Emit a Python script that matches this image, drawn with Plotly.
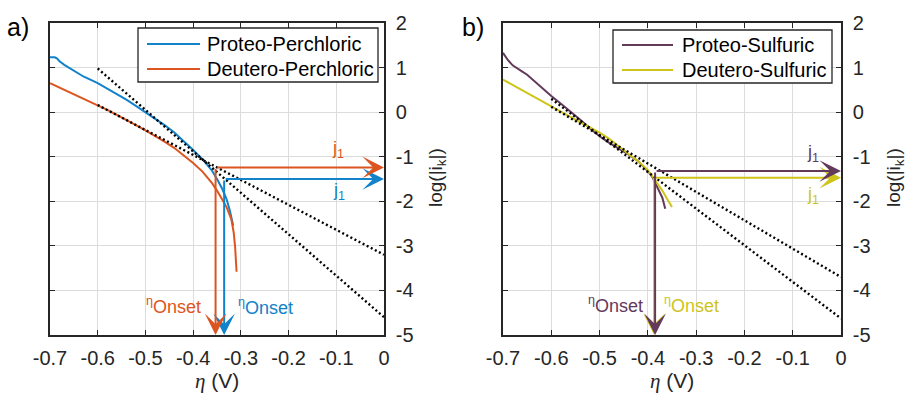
import plotly.graph_objects as go

# ---------------- data ----------------
# a) perchloric acid: overpotential (V) vs log|i_k|
eta_proteo_perchloric = [-0.700, -0.690, -0.685, -0.680, -0.670, -0.660, -0.650, -0.630, -0.600,
                         -0.580, -0.560, -0.540, -0.520, -0.500, -0.480, -0.460, -0.440, -0.420,
                         -0.400, -0.380, -0.360, -0.350, -0.340, -0.330, -0.323, -0.316]
logi_proteo_perchloric = [1.23, 1.23, 1.20, 1.14, 1.06, 0.99, 0.92, 0.80, 0.65,
                          0.53, 0.41, 0.28, 0.14, 0.00, -0.14, -0.29, -0.45, -0.64,
                          -0.85, -1.06, -1.32, -1.50, -1.70, -1.95, -2.21, -2.55]

eta_deutero_perchloric = [-0.700, -0.680, -0.660, -0.640, -0.620, -0.600, -0.580, -0.560, -0.540,
                          -0.520, -0.500, -0.480, -0.460, -0.440, -0.420, -0.400, -0.380, -0.360,
                          -0.350, -0.340, -0.330, -0.320, -0.315, -0.312, -0.309]
logi_deutero_perchloric = [0.65, 0.55, 0.45, 0.35, 0.26, 0.16, 0.05, -0.06, -0.17,
                           -0.29, -0.41, -0.53, -0.66, -0.80, -0.96, -1.14, -1.34, -1.60,
                           -1.76, -1.93, -2.13, -2.40, -2.70, -3.03, -3.58]

# b) sulfuric acid
eta_proteo_sulfuric = [-0.700, -0.690, -0.680, -0.670, -0.660, -0.650, -0.630, -0.600, -0.580,
                       -0.560, -0.540, -0.520, -0.500, -0.480, -0.460, -0.440, -0.420, -0.400,
                       -0.390, -0.380, -0.370, -0.364]
logi_proteo_sulfuric = [1.33, 1.17, 1.05, 0.97, 0.91, 0.84, 0.64, 0.36, 0.19,
                        0.02, -0.17, -0.36, -0.54, -0.69, -0.82, -0.95, -1.10, -1.32,
                        -1.47, -1.68, -1.92, -2.17]

eta_deutero_sulfuric = [-0.700, -0.680, -0.660, -0.640, -0.620, -0.600, -0.580, -0.560, -0.540,
                        -0.520, -0.500, -0.480, -0.460, -0.440, -0.420, -0.400, -0.390, -0.380,
                        -0.370, -0.360, -0.350]
logi_deutero_sulfuric = [0.73, 0.61, 0.49, 0.37, 0.24, 0.12, 0.00, -0.12, -0.23,
                         -0.34, -0.46, -0.60, -0.78, -0.94, -1.10, -1.30, -1.45, -1.60,
                         -1.76, -1.95, -2.13]

# Tafel fits (start / end points)
tafel_eta = [-0.6, 0.0]
tafel_proteo_perchloric = [0.98, -4.60]
tafel_deutero_perchloric = [0.16, -3.20]
tafel_proteo_sulfuric = [0.30, -4.63]
tafel_deutero_sulfuric = [0.12, -3.70]

# onset potentials (V) and limiting-current levels j1 (log units)
onset_perchloric = {"Proteo": -0.335, "Deutero": -0.353}
j1_perchloric = {"Proteo": -1.50, "Deutero": -1.24}
onset_sulfuric = {"Proteo": -0.385, "Deutero": -0.387}
j1_sulfuric = {"Proteo": -1.32, "Deutero": -1.47}

# series names per panel
names_perchloric = ["Proteo-Perchloric", "Deutero-Perchloric"]
names_sulfuric = ["Proteo-Sulfuric", "Deutero-Sulfuric"]

# axis ticks
x_ticks = [-0.7, -0.6, -0.5, -0.4, -0.3, -0.2, -0.1, 0.0]
x_tick_labels = ["-0.7", "-0.6", "-0.5", "-0.4", "-0.3", "-0.2", "-0.1", "0"]
y_ticks = [2, 1, 0, -1, -2, -3, -4, -5]
y_tick_labels = ["2", "1", "0", "-1", "-2", "-3", "-4", "-5"]

# ---------------- styles ----------------
BLUE = "#1282CA"
ORANGE = "#DC5520"
PURPLE = "#633A5B"
YELLOW = "#CEC41A"
AXIS = "#262626"
GRID = "#DCDCDC"
FONT = "Liberation Sans, Arial, sans-serif"
W, H = 917, 394

fig = go.Figure()

def curve(x, y, name, color, xa, ya):
    fig.add_trace(go.Scatter(x=x, y=y, mode="lines", name=name, showlegend=False,
                             line=dict(color=color, width=2),
                             xaxis=xa, yaxis=ya))

def tafel(y, xa, ya):
    fig.add_trace(go.Scatter(x=tafel_eta, y=y, mode="lines", showlegend=False,
                             line=dict(color="black", width=2.4, dash="2px,2.6px"),
                             xaxis=xa, yaxis=ya, hoverinfo="skip"))

curve(eta_proteo_perchloric, logi_proteo_perchloric, names_perchloric[0], BLUE, "x", "y")
curve(eta_deutero_perchloric, logi_deutero_perchloric, names_perchloric[1], ORANGE, "x", "y")
tafel(tafel_proteo_perchloric, "x", "y")
tafel(tafel_deutero_perchloric, "x", "y")

curve(eta_proteo_sulfuric, logi_proteo_sulfuric, names_sulfuric[0], PURPLE, "x2", "y2")
curve(eta_deutero_sulfuric, logi_deutero_sulfuric, names_sulfuric[1], YELLOW, "x2", "y2")
tafel(tafel_proteo_sulfuric, "x2", "y2")
tafel(tafel_deutero_sulfuric, "x2", "y2")

annotations = []
shapes = []

def arrow(x0, y0, x1, y1, color, xa, ya):
    annotations.append(dict(x=x1, y=y1, ax=x0, ay=y0, xref=xa, yref=ya,
                            axref=xa, ayref=ya, text="", showarrow=True,
                            arrowhead=3, arrowsize=1.8, arrowwidth=2,
                            arrowcolor=color, standoff=0))

def onset_arrows(onset, j1, color, xa, ya):
    arrow(onset, j1, 0.0, j1, color, xa, ya)
    arrow(onset, j1, onset, -5.0, color, xa, ya)

# b) yellow vertical sits underneath the purple one
onset_arrows(onset_perchloric["Proteo"], j1_perchloric["Proteo"], BLUE, "x", "y")
onset_arrows(onset_perchloric["Deutero"], j1_perchloric["Deutero"], ORANGE, "x", "y")
onset_arrows(onset_sulfuric["Deutero"], j1_sulfuric["Deutero"], YELLOW, "x2", "y2")
onset_arrows(onset_sulfuric["Proteo"], j1_sulfuric["Proteo"], PURPLE, "x2", "y2")

def label(x, y, text, color, xa, ya, size=18):
    annotations.append(dict(x=x, y=y, xref=xa, yref=ya, text=text, showarrow=False,
                            xanchor="center", yanchor="middle",
                            font=dict(color=color, size=size, family=FONT)))

J1 = "j<sub>1</sub>"
ONSET = "<sup>η</sup>Onset"
label(-0.096, -0.84, J1, ORANGE, "x", "y")
label(-0.094, -1.78, J1, BLUE, "x", "y")
label(-0.441, -4.33, ONSET, ORANGE, "x", "y")
label(-0.249, -4.36, ONSET, BLUE, "x", "y")
label(-0.057, -0.93, J1, PURPLE, "x2", "y2")
label(-0.057, -1.86, J1, YELLOW, "x2", "y2")
label(-0.467, -4.31, ONSET, PURPLE, "x2", "y2")
label(-0.309, -4.31, ONSET, YELLOW, "x2", "y2")

def paper_text(x, y, text, size, angle=0, anchor="center", color=AXIS):
    annotations.append(dict(x=x / W, y=1 - y / H, xref="paper", yref="paper",
                            xanchor=anchor, yanchor="middle", text=text,
                            textangle=angle, showarrow=False,
                            font=dict(size=size, color=color, family=FONT)))

# panel letters and axis titles
paper_text(18, 27, "a)", 25, color="black")
paper_text(473, 27, "b)", 25, color="black")
X_TITLE = "<span style='font-family:Liberation Serif'><i>η</i></span> (V)"
paper_text(217, 381, X_TITLE, 21)
paper_text(672, 381, X_TITLE, 21)
Y_TITLE = "log(|i<sub>k</sub>|)"
paper_text(437, 178, Y_TITLE, 19, -90)
paper_text(895, 178, Y_TITLE, 19, -90)

# boxed legends (pixel layout of each box, samples and labels)
def legend_box(x0, y0, x1, y1, names, colors, sample_x0, sample_x1, text_x, rows):
    shapes.append(dict(type="rect", xref="paper", yref="paper",
                       x0=x0 / W, x1=x1 / W, y0=1 - y1 / H, y1=1 - y0 / H,
                       line=dict(color=AXIS, width=1.3), fillcolor="white", layer="above"))
    for name, color, ry in zip(names, colors, rows):
        shapes.append(dict(type="line", xref="paper", yref="paper",
                           x0=sample_x0 / W, x1=sample_x1 / W,
                           y0=1 - ry / H, y1=1 - ry / H,
                           line=dict(color=color, width=2), layer="above"))
        paper_text(text_x, ry, name, 20, anchor="left", color="black")

legend_box(138, 28, 378, 82, names_perchloric, [BLUE, ORANGE], 147, 200, 205, [44, 69])
legend_box(613, 30, 832, 83, names_sulfuric, [PURPLE, YELLOW], 622, 673, 680, [45, 70])

def xaxis(domain, anchor):
    return dict(domain=domain, anchor=anchor, range=[-0.7, 0], tickvals=x_ticks,
                ticktext=x_tick_labels, ticks="inside", ticklen=5, tickcolor=AXIS,
                showgrid=True, gridcolor=GRID, gridwidth=1, zeroline=False,
                showline=True, linecolor=AXIS, linewidth=1.5, mirror="ticks",
                automargin=False,
                tickfont=dict(size=20, color=AXIS, family=FONT), ticklabelstandoff=4)

def yaxis(anchor):
    return dict(domain=[1 - 335 / H, 1 - 23 / H], anchor=anchor, side="right",
                range=[-5, 2], tickvals=y_ticks, ticktext=y_tick_labels,
                ticks="inside", ticklen=5, tickcolor=AXIS,
                showgrid=True, gridcolor=GRID, gridwidth=1, zeroline=False,
                showline=True, linecolor=AXIS, linewidth=1.5, mirror="ticks",
                automargin=False,
                tickfont=dict(size=20, color=AXIS, family=FONT), ticklabelstandoff=6)

fig.update_layout(
    width=W, height=H, autosize=False,
    margin=dict(l=0, r=0, t=0, b=0, autoexpand=False),
    paper_bgcolor="white", plot_bgcolor="white",
    xaxis=xaxis([50 / W, 384 / W], "y"),
    yaxis=yaxis("x"),
    xaxis2=xaxis([503 / W, 841 / W], "y2"),
    yaxis2=yaxis("x2"),
    showlegend=False,
    shapes=shapes,
    annotations=annotations,
    font=dict(family=FONT),
)

fig.write_html("out.html")
